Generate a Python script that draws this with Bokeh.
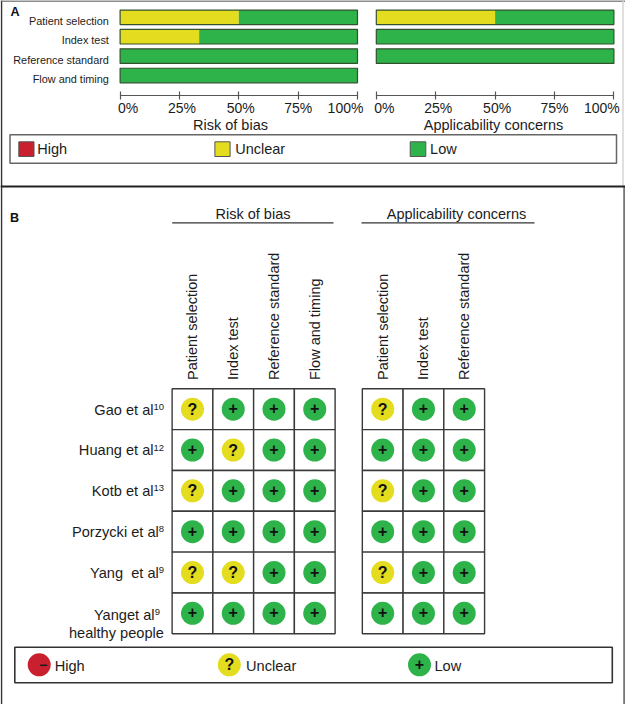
from bokeh.plotting import figure
from bokeh.embed import file_html
from bokeh.resources import INLINE
from bokeh.models import Range1d, LinearAxis, FixedTicker, ColumnDataSource
from bokeh.core.properties import value

# ---------- data ----------
domains = ["Patient selection", "Index test", "Reference standard", "Flow and timing"]
rob_unclear = [50, 33.3, 0, 0]
rob_low = [50, 66.7, 100, 100]
app_domains = ["Patient selection", "Index test", "Reference standard"]
app_unclear = [50, 0, 0]
app_low = [50, 100, 100]
tick_values = [0, 25, 50, 75, 100]
tick_labels = ["0%", "25%", "50%", "75%", "100%"]

studies = ["Gao et al", "Huang et al", "Kotb et al", "Porzycki et al", "Yang\u00a0 et al", "Yanget al"]
study_refs = ["10", "12", "13", "8", "9", "9"]
judge_rob = [
    ["?", "+", "+", "+"],
    ["+", "?", "+", "+"],
    ["?", "+", "+", "+"],
    ["+", "+", "+", "+"],
    ["?", "?", "+", "+"],
    ["+", "+", "+", "+"],
]
judge_app = [
    ["?", "+", "+"],
    ["+", "+", "+"],
    ["?", "+", "+"],
    ["+", "+", "+"],
    ["?", "+", "+"],
    ["+", "+", "+"],
]

# ---------- style ----------
W, H = 625, 704
RED, YELLOW, GREEN = "#c8202f", "#e3dc1f", "#2db34a"
FONT = value("Liberation Sans")
TXT = "#1c1c1c"
EDGE = "#3a3a3a"


def linear(origin, unit, size):
    """Range so that value 0 sits at pixel origin and 1 unit spans unit pixels."""
    return Range1d(-origin / unit, (size - origin) / unit)


p = figure(width=W, height=H, x_range=Range1d(0, W), y_range=Range1d(H, 0),
           x_axis_type=None, y_axis_type=None, toolbar_location=None,
           output_backend="svg", min_border=0, outline_line_color=None,
           background_fill_color="white", border_fill_color="white",
           styles={"position": "absolute", "left": "0px", "top": "0px"})
p.grid.visible = False

# scales of the panels: value 0 origin, value 100 at bar end
p.extra_x_ranges["rob"] = Range1d(-119.6 * 100 / 237.4, (W - 119.6) * 100 / 237.4)
p.extra_x_ranges["app"] = Range1d(-375.8 * 100 / 237.6, (W - 375.8) * 100 / 237.6)
p.extra_y_ranges["rows"] = Range1d((H - 16.8) / 19.4, -16.8 / 19.4)
p.extra_x_ranges["cols"] = linear(192.0, 40.75, W)
p.extra_x_ranges["cols2"] = linear(382.2, 40.75, W)
p.extra_y_ranges["study"] = Range1d((H - 408.7) / 40.83, -408.7 / 40.83)


def bar_text(x, y, t, **kw):
    p.text(x=x, y=y, text=t, text_font=FONT, text_color=kw.pop("color", TXT),
           text_font_size=kw.pop("size", "14.5px"), text_align=kw.pop("align", "left"),
           text_baseline=kw.pop("baseline", "middle"), **kw)


# ---------- outer frames ----------
p.line([1, 1], [0, H], line_color="#333333", line_width=1.5)
p.line([0, W], [0.5, 0.5], line_color="#666666", line_width=1.6)
p.line([622.5, 622.5], [0, 186], line_color="#d4d4d4", line_width=1.5)
p.line([623.7, 623.7], [186, H], line_color="#777777", line_width=2)
p.line([0, W], [186, 186], line_color="#222222", line_width=2.2)

# ---------- panel A ----------
for rng, names, unclear, low in (("rob", domains, rob_unclear, rob_low),
                                 ("app", app_domains, app_unclear, app_low)):
    ys = list(range(len(names)))
    left = [u for u in unclear]
    p.hbar(y=ys, left=[0] * len(ys), right=unclear, height=0.75, x_range_name=rng, y_range_name="rows",
           fill_color=YELLOW, line_color=None)
    p.hbar(y=ys, left=left, right=[u + l for u, l in zip(unclear, low)], height=0.75,
           x_range_name=rng, y_range_name="rows", fill_color=GREEN, line_color=None)
    p.hbar(y=ys, left=[0] * len(ys), right=[u + l for u, l in zip(unclear, low)], height=0.75,
           x_range_name=rng, y_range_name="rows", fill_color=None, line_color="#34502f", line_width=1.2)

    ax = LinearAxis(x_range_name=rng, fixed_location=94.7, bounds=(0, 100),
                    ticker=FixedTicker(ticks=tick_values),
                    major_label_overrides={t: "" for t in tick_values},
                    major_tick_in=4, major_tick_out=4, minor_tick_line_color=None,
                    axis_line_color="#555555", major_tick_line_color="#555555", axis_line_width=1.2,
                    major_tick_line_width=1.2)
    p.add_layout(ax, "below")

    src = ColumnDataSource(dict(x=tick_values, t=tick_labels, o=[8, 2.5, 2, 0, -12]))
    p.text(x="x", y=107.3, text="t", source=src, x_offset="o", x_range_name=rng, text_font=FONT,
           text_color=TXT, text_font_size="14px", text_align="center", text_baseline="middle")

p.text(x=[108.4] * 4, y=[i + 0.19 for i in range(4)], text=domains, y_range_name="rows", text_font=FONT,
       text_color=TXT, text_font_size="10.9px", text_align="right", text_baseline="middle")

bar_text([230], [124], ["Risk of bias"], align="center")
bar_text([493], [124], ["Applicability concerns"], align="center")
bar_text([10], [11.2], ["A"], size="12.6px", text_font_style="bold", color="#111111")

p.quad(left=[9.5], right=[616], top=[134.3], bottom=[162.7], fill_color="white",
       line_color="#666666", line_width=1.5)
p.quad(left=[18.3, 214.4, 409.7], right=[33.5, 229.6, 425.3], top=[141.3] * 3, bottom=[156] * 3,
       fill_color=[RED, YELLOW, GREEN], line_color="#555555", line_width=1)
bar_text([36.7, 234.7, 429.6], [148.8] * 3, ["High", "Unclear", "Low"])

# ---------- panel B ----------
bar_text([9.5], [217.3], ["B"], size="12.6px", text_font_style="bold", color="#111111")
bar_text([252.5, 456], [213.3, 213.3], ["Risk of bias", "Applicability concerns"], align="center")
p.segment(x0=[171.7, 361], x1=[333, 534], y0=[222.3, 222.3], y1=[222.3, 222.3], line_color="#333333", line_width=1.2)

SYMBOL_STYLE = {"?": ("16px", 0), "+": ("16px", -1)}

for rng, names, judge in (("cols", domains, judge_rob), ("cols2", app_domains, judge_app)):
    ncol = len(names)
    xs = [j for i in range(len(studies)) for j in range(ncol)]
    ys = [i for i in range(len(studies)) for j in range(ncol)]
    flat = [judge[i][j] for i in range(len(studies)) for j in range(ncol)]
    cols = [YELLOW if v == "?" else GREEN if v == "+" else RED for v in flat]
    p.rect(x=xs, y=ys, width=1, height=1, x_range_name=rng, y_range_name="study",
           fill_color="white", line_color=EDGE, line_width=1.4)
    p.scatter(x=xs, y=ys, size=23, marker="circle", x_range_name=rng, y_range_name="study",
              fill_color=cols, line_color=None)
    for sym, (fs, off) in SYMBOL_STYLE.items():
        keep = [k for k, v in enumerate(flat) if v == sym]
        p.text(x=[xs[k] for k in keep], y=[ys[k] for k in keep], text=[sym] * len(keep),
               x_range_name=rng, y_range_name="study", text_font=FONT, text_font_style="bold",
               text_color="#111111", text_font_size=fs, text_align="center",
               text_baseline="middle", y_offset=off)
    p.text(x=list(range(ncol)), y=[379.5] * ncol, text=names, x_range_name=rng, text_font=FONT,
           text_color=TXT, text_font_size="14.5px", text_align="left", text_baseline="middle", angle=1.5708)

name_right = [163.6 - 5.3 * len(r) for r in study_refs]
name_right[5] = 154
sup_right = [163.6] * 5 + [159.6]
name_y = [i + 0.01 for i in range(5)] + [5.03]
p.text(x=name_right, y=name_y, text=studies, y_range_name="study", text_font=FONT, text_color=TXT,
       text_font_size="14.6px", text_align="right", text_baseline="middle")
p.text(x=sup_right, y=[v - 0.07 for v in name_y], text=study_refs, y_range_name="study", text_font=FONT,
       text_color=TXT, text_font_size="9.5px", text_align="right", text_baseline="middle")
bar_text([163.4], [632], ["healthy people"], align="right", size="14.6px")

p.quad(left=[14.3], right=[611.8], top=[646.7], bottom=[682.3], fill_color="white",
       line_color="#333333", line_width=1.6)
lg_x = [38.7, 228.8, 419]
p.scatter(x=lg_x, y=[664.3] * 3, size=23, marker="circle", fill_color=[RED, YELLOW, GREEN], line_color=None)
p.text(x=[lg_x[0]], y=[664.3], text=["\u2212"], x_offset=4, text_font=FONT, text_color="#1a1a1a",
       text_font_style="bold", text_font_size="14px", text_align="center", text_baseline="middle")
p.text(x=[lg_x[1]], y=[664.3], text=["?"], text_font=FONT, text_font_style="bold", text_color="#111111",
       text_font_size="16px", text_align="center", text_baseline="middle")
p.text(x=[lg_x[2]], y=[663.3], text=["+"], text_font=FONT, text_font_style="bold", text_color="#111111",
       text_font_size="16px", text_align="center", text_baseline="middle")
bar_text([54.2, 245.5, 434], [665.3] * 3, ["High", "Unclear", "Low"], size="14.6px")

open("out.html", "w").write(file_html(p, INLINE))
